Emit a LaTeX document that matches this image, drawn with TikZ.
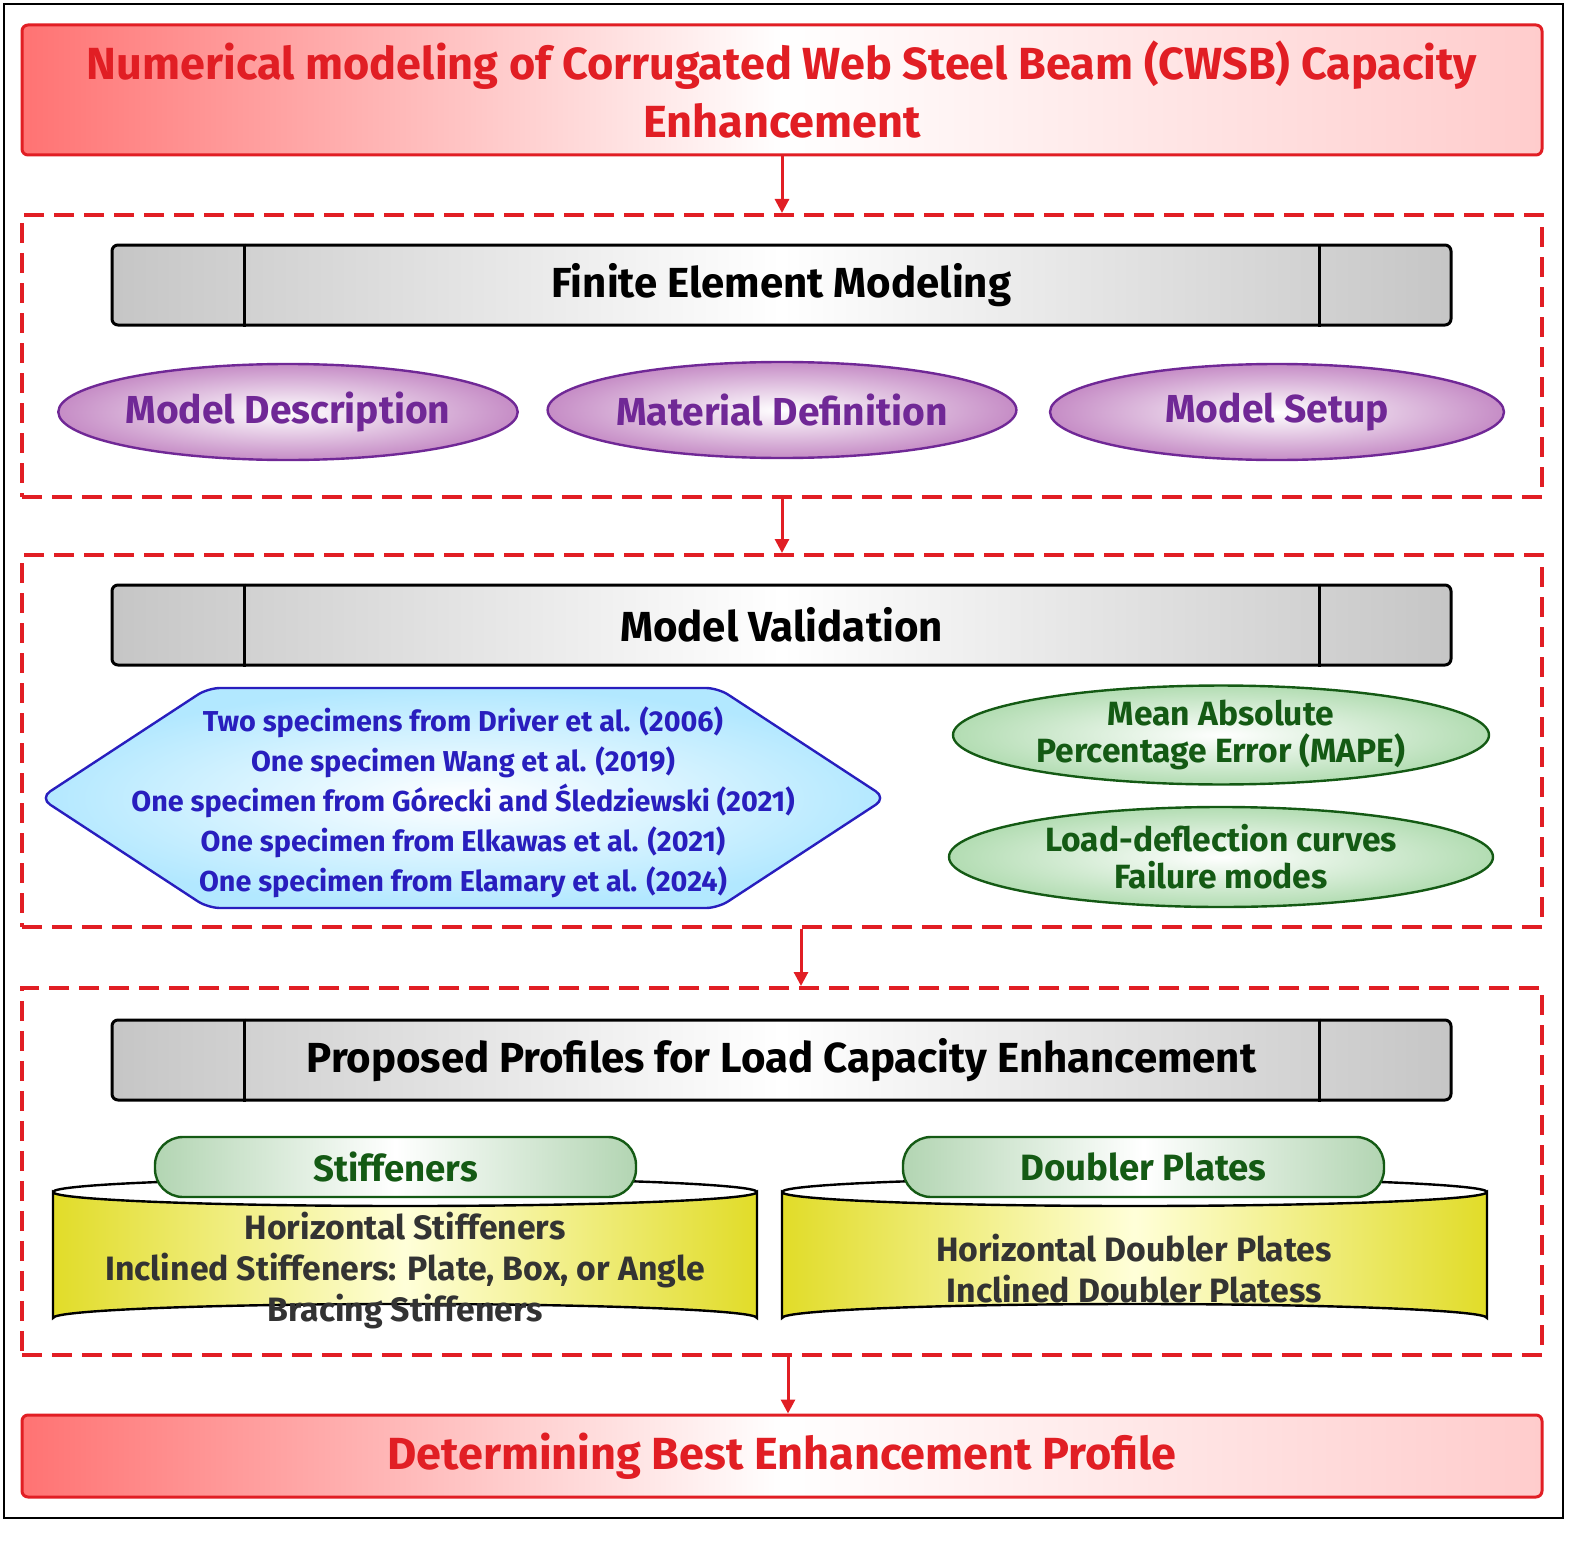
\documentclass[tikz,border=0pt]{standalone}
\usepackage{fontspec}
\setmainfont{Fira Sans}
\usetikzlibrary{arrows.meta,shapes.geometric}
\definecolor{rd}{RGB}{225,30,36}
\definecolor{pu}{RGB}{112,40,150}
\definecolor{bl}{RGB}{40,30,190}
\definecolor{gr}{RGB}{20,90,20}
\definecolor{yl}{RGB}{225,220,40}
\tikzset{
 x=0.5pt,y=-0.5pt,
 arr/.style={draw=rd,line width=1.5pt,-{Triangle[length=7pt,width=7pt]}},
 dbox/.style={draw=rd,line width=2pt,dash pattern=on 10pt off 5pt,minimum width=760pt,inner sep=0pt},
 rbox/.style={draw=rd,line width=1.5pt,rounded corners=3pt,left color=red!55,right color=red!20,middle color=white,minimum width=760pt,inner sep=0pt,text=rd,font=\bfseries\fontsize{22.5}{29}\selectfont,align=center},
 bar/.style={draw=black,line width=1.5pt,rounded corners=3pt,left color=gray!45,right color=gray!45,middle color=white,minimum width=669.5pt,minimum height=40pt,inner sep=0pt,font=\bfseries\fontsize{21}{24}\selectfont},
 pell/.style={ellipse,draw=pu,line width=1.2pt,inner color=white,outer color=violet!45,minimum width=227pt,minimum height=48pt,inner sep=0pt,text=pu,font=\bfseries\fontsize{19.5}{20}\selectfont},
 gell/.style={ellipse,draw=gr,line width=1.2pt,inner color=white,outer color=green!55!black!30,minimum height=49pt,inner sep=0pt,text=gr,font=\bfseries\fontsize{16.8}{18.5}\selectfont,align=center},
 glab/.style={draw=gr,line width=1.2pt,rounded corners=14pt,left color=green!45!black!30,right color=green!45!black!30,middle color=white,minimum width=240.5pt,minimum height=30pt,inner sep=0pt,text=gr,font=\bfseries\fontsize{18.3}{18}\selectfont},
 ctext/.style={text=black!80,font=\bfseries\fontsize{16.9}{20.5}\selectfont,align=center},
}
\newcommand\cyl[3]{% x1 x2 name
 \shade[left color=yl,right color=yl,middle color=yellow!15,draw=black,line width=1.2pt]
  (#1,1192) -- (#1,1318) arc[start angle=180,end angle=360,x radius={(#2-#1)/2},y radius=14] -- (#2,1192) arc[start angle=0,end angle=180,x radius={(#2-#1)/2},y radius=14] -- cycle;
 \draw[line width=1.2pt] (#1,1192) arc[start angle=180,end angle=360,x radius={(#2-#1)/2},y radius=14];
}
\begin{document}
\begin{tikzpicture}
\useasboundingbox (0,0) rectangle (1586,1541);
\draw[line width=1.2pt] (4,4) rectangle (1563,1518);
\node[rbox,minimum height=65pt] (title) at (782,90) {Numerical modeling of Corrugated Web Steel Beam (CWSB) Capacity\\Enhancement};
\node[dbox,minimum height=141pt] (b1) at (782,356) {};
\node[dbox,minimum height=186pt] (b2) at (782,741) {};
\node[dbox,minimum height=183.5pt] (b3) at (782,1171.5) {};
\node[rbox,minimum height=41pt] (res) at (782,1456) {Determining Best Enhancement Profile};
\coordinate (a3) at (801,0);
\coordinate (a4) at (788,0);
\draw[arr] (title.south) -- (b1.north);
\draw[arr] (b1.south) -- (b2.north);
\draw[arr] (b2.south -| a3) -- (b3.north -| a3);
\draw[arr] (b3.south -| a4) -- (res.north -| a4);
% bars
\foreach \n/\y/\t in {fem/285/Finite Element Modeling,mv/625/Model Validation,pp/1060/Proposed Profiles for Load Capacity Enhancement}{
 \node[bar] (\n) at (781.5,\y) {\t};
 \draw[line width=1.5pt] ([xshift=67pt]\n.north west) -- ([xshift=67pt]\n.south west);
 \draw[line width=1.5pt] ([xshift=-66.5pt]\n.north east) -- ([xshift=-66.5pt]\n.south east);
}
\node[pell] (md) at (288,412) {Model Description};
\node[pell] (mdef) at (782,410) {Material Definition};
\node[pell] (ms) at (1277,412) {Model Setup};
% hexagon
\shade[draw=bl,line width=1.2pt,inner color=white,outer color=blue!30!cyan!30,rounded corners=6pt]
 (40,798) -- (208,688) -- (718,688) -- (886,798) -- (718,908) -- (208,908) -- cycle;
\node[text=bl,font=\bfseries\fontsize{14.4}{20}\selectfont,align=center] (hex) at (463,802)
 {Two specimens from Driver et al. (2006)\\One specimen Wang et al. (2019)\\One specimen from Górecki and Śledziewski (2021)\\One specimen from Elkawas et al. (2021)\\One specimen from Elamary et al. (2024)};
\node[gell,minimum width=268pt] (mape) at (1221,735) {Mean Absolute\\Percentage Error (MAPE)};
\node[gell,minimum width=272pt,minimum height=50pt] (ldc) at (1221,857) {Load-deflection curves\\Failure modes};
% cylinders
\cyl{53}{757}{c1}
\cyl{782}{1487}{c2}
\node[ctext] (t1) at (405,1271) {Horizontal Stiffeners\\Inclined Stiffeners: Plate, Box, or Angle\\Bracing Stiffeners};
\node[ctext] (t2) at (1134,1269) {Horizontal Doubler Plates\\Inclined Doubler Platess};
\node[glab] (s) at (395.5,1167) {Stiffeners};
\node[glab] (d) at (1143.5,1167) {Doubler Plates};
\end{tikzpicture}
\end{document}
